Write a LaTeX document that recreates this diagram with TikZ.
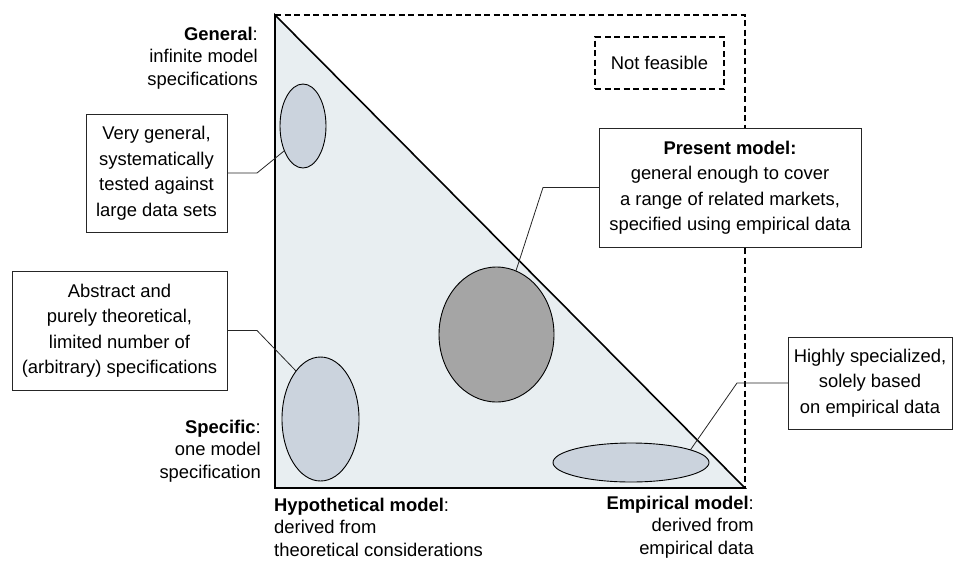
\documentclass[tikz,border=0pt]{standalone}
\usepackage{fontspec}
\setmainfont{Liberation Sans}
\usetikzlibrary{shapes.geometric}
\definecolor{areafill}{HTML}{E8EEF1}
\definecolor{lightell}{HTML}{CBD3DD}
\definecolor{darkell}{HTML}{A5A5A5}
\begin{document}
\begin{tikzpicture}[x=1pt, y=-1pt,
  boxfont/.style={font=\fontsize{18.4}{25.5}\selectfont},
  callout/.style={boxfont, draw=black!85, fill=white, line width=0.9pt,
    align=center, inner sep=0pt, outer sep=0pt},
  region/.style={ellipse, draw=black, line width=0.9pt, inner sep=0pt, outer sep=0pt},
  leader/.style={line width=0.8pt, draw=black!85},
  axislabel/.style={font=\fontsize{18.4}{22.5}\selectfont, inner sep=0pt},
  frame/.style={line width=1.6pt, dash pattern=on 6pt off 3.5pt}]
\useasboundingbox (0,0) rectangle (955,563);

% corners of the model space
\coordinate (tl) at (275,15);
\coordinate (bl) at (275,488);
\coordinate (br) at (745,488);
\coordinate (tr) at (745,15);

% feasible triangle
\draw[fill=areafill, line width=1.6pt, line join=miter] (tl) -- (bl) -- (br) -- cycle;
% infeasible half, dashed outline
\draw[frame] (tl) -- (tr) -- (br);

% model regions
\node[region, fill=lightell, minimum width=46pt, minimum height=84pt] (egen) at (303,126) {};
\node[region, fill=lightell, minimum width=77pt, minimum height=124pt] (eabs) at (320.5,419) {};
\node[region, fill=darkell, minimum width=115pt, minimum height=135pt] (epres) at (496.5,334.5) {};
\node[region, fill=lightell, minimum width=156pt, minimum height=39pt] (eemp) at (631,462.5) {};

% callout boxes
\node[callout, dash pattern=on 6pt off 3.5pt, line width=1.6pt, draw=black,
  minimum width=129pt, minimum height=52pt] (nf) at (659.5,63) {Not feasible};
\node[callout, minimum width=141pt, minimum height=118pt] (vg) at (156.5,173)
  {Very general,\\systematically\\tested against\\large data sets};
\node[callout, minimum width=215pt, minimum height=119pt] (abs) at (119.5,330.5)
  {Abstract and\\purely theoretical,\\limited number of\\(arbitrary) specifications};
\node[callout, minimum width=164pt, minimum height=92pt] (hs) at (870,383)
  {Highly specialized,\\solely based\\on empirical data};

% leader bends
\coordinate (vgbend) at (257,173);
\coordinate (absbend) at (257,330.5);
\coordinate (pmbend) at (543,187.5);
\coordinate (hsbend) at (737,383);

\draw[leader] (vg.east) -- (vgbend) -- (egen.233);
\draw[leader] (abs.east) -- (absbend) -- (eabs.117);
\draw[leader] (hs.west) -- (hsbend) -- (eemp.12);
\draw[leader] (epres.73) -- (pmbend) -- (730-131,187.5);

\node[callout, minimum width=262pt, minimum height=119pt] (pm) at (730,187.5)
  {\textbf{Present model:}\\general enough to cover\\a range of related markets,\\specified using empirical data};

% axis end labels
\node[axislabel, anchor=east, align=right] (gen) at (258,58)
  {\textbf{General}:\\infinite model\\specifications};
\node[axislabel, anchor=east, align=right] (spec) at (261,451)
  {\textbf{Specific}:\\one model\\specification};
\node[axislabel, anchor=west, align=left] (hyp) at (274,527)
  {\textbf{Hypothetical model}:\\derived from\\theoretical considerations};
\node[axislabel, anchor=east, align=right] (emp) at (754,527)
  {\textbf{Empirical model}:\\derived from\\empirical data};
\end{tikzpicture}
\end{document}
